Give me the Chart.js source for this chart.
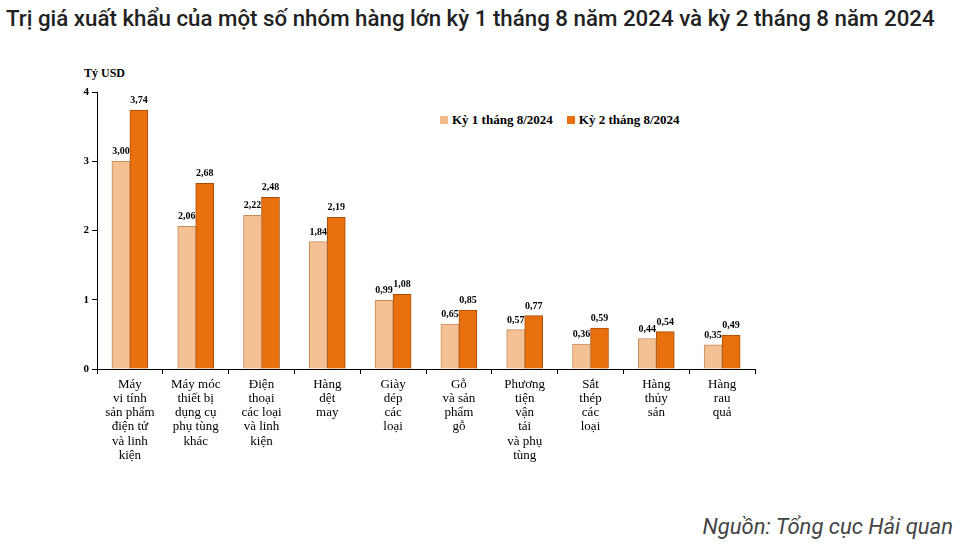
<!DOCTYPE html>
<html><head><meta charset="utf-8">
<script src="https://cdn.jsdelivr.net/npm/chart.js@4"></script>
<style>
body{margin:0;background:#fff;width:961px;height:547px;overflow:hidden;position:relative;font-family:Roboto,sans-serif}
#title{position:absolute;left:6px;top:5px;font-size:22.3px;color:#222;font-weight:500;white-space:nowrap}
#src{position:absolute;right:8px;top:514px;font-size:22px;font-style:italic;color:#444}
#unit{position:absolute;left:84px;top:66px;font:bold 12px "Liberation Serif",serif}
#legend{position:absolute;left:440px;top:112px;font:bold 13px "Liberation Serif",serif;display:flex;gap:14px}
#legend span i{display:inline-block;width:8px;height:8px;margin-right:4px}
canvas{position:absolute;left:0;top:0}
</style></head><body>
<div id="title">Trị giá xuất khẩu của một số nhóm hàng lớn kỳ 1 tháng 8 năm 2024 và kỳ 2 tháng 8 năm 2024</div>
<div id="unit">Tỷ USD</div>
<div id="legend"><span><i style="background:#f2b98a"></i>Kỳ 1 tháng 8/2024</span><span><i style="background:#e8700e"></i>Kỳ 2 tháng 8/2024</span></div>
<div id="src">Nguồn: Tổng cục Hải quan</div>
<canvas id="c" width="961" height="547"></canvas>
<script>
(function () {
    "use strict";

    const categories = [
        ["Máy", "vi tính", "sản phẩm", "điện tử", "và linh", "kiện"],
        ["Máy móc", "thiết bị", "dụng cụ", "phụ tùng", "khác"],
        ["Điện", "thoại", "các loại", "và linh", "kiện"],
        ["Hàng", "dệt", "may"],
        ["Giày", "dép", "các", "loại"],
        ["Gỗ", "và sản", "phẩm", "gỗ"],
        ["Phương", "tiện", "vận", "tải", "và phụ", "tùng"],
        ["Sắt", "thép", "các", "loại"],
        ["Hàng", "thủy", "sản"],
        ["Hàng", "rau", "quả"]
    ];
    const ky1 = [3.00, 2.06, 2.22, 1.84, 0.99, 0.65, 0.57, 0.36, 0.44, 0.35];
    const ky2 = [3.74, 2.68, 2.48, 2.19, 1.08, 0.85, 0.77, 0.59, 0.54, 0.49];
    const yTicks = [0, 1, 2, 3, 4];

    const serif = "'Liberation Serif', serif";
    const ctx = document.getElementById("c").getContext("2d");

    function grad(c1, c2, c3) {
        return (context) => {
            const el = context.element;
            if (!el || el.x === undefined) return c2;
            const w = el.width || 18;
            const g = ctx.createLinearGradient(el.x - w / 2, 0, el.x + w / 2, 0);
            g.addColorStop(0, c1);
            g.addColorStop(0.4, c2);
            g.addColorStop(1, c3);
            return g;
        };
    }

    const labelPlugin = {
        id: "vals",
        afterDatasetsDraw(chart) {
            const c = chart.ctx;
            c.save();
            c.font = "bold 10px " + serif;
            c.fillStyle = "#000";
            c.textAlign = "center";
            chart.data.datasets.forEach((ds, i) => {
                chart.getDatasetMeta(i).data.forEach((bar, j) => {
                    c.fillText(ds.data[j].toFixed(2).replace(".", ","), bar.x, bar.y - 7);
                });
            });
            c.restore();
        }
    };

    new Chart(ctx, {
        type: "bar",
        data: {
            labels: categories,
            datasets: [
                { data: ky1, backgroundColor: grad("#f7d2ae", "#f4c194", "#d99a66"), borderColor: "#c98b5a", borderWidth: 1 },
                { data: ky2, backgroundColor: grad("#f59a3e", "#e8700e", "#b35205"), borderColor: "#a84c05", borderWidth: 1 }
            ]
        },
        options: {
            responsive: false,
            animation: false,
            layout: { padding: { left: 67, right: 206, top: 92, bottom: 0 } },
            plugins: { legend: { display: false }, tooltip: { enabled: false } },
            datasets: { bar: { barThickness: 18, categoryPercentage: 0.67 } },
            scales: {
                x: {
                    grid: { display: true, drawOnChartArea: false, color: "#000", tickLength: 5 },
                    border: { color: "#000" },
                    ticks: { color: "#000", font: { family: serif, size: 13, lineHeight: 1.1 }, maxRotation: 0, autoSkip: false, padding: 3 },
                    afterFit(s) { s.height = 178; }
                },
                y: {
                    min: 0, max: 4,
                    afterBuildTicks(s) { s.ticks = yTicks.map(v => ({ value: v })); },
                    grid: { display: true, drawOnChartArea: false, color: "#000", tickLength: 5 },
                    border: { color: "#000" },
                    ticks: { color: "#000", font: { family: serif, size: 11, weight: "bold" } },
                    afterFit(s) { s.width = 30; }
                }
            }
        },
        plugins: [labelPlugin]
    });
})();
</script>
</body></html>
